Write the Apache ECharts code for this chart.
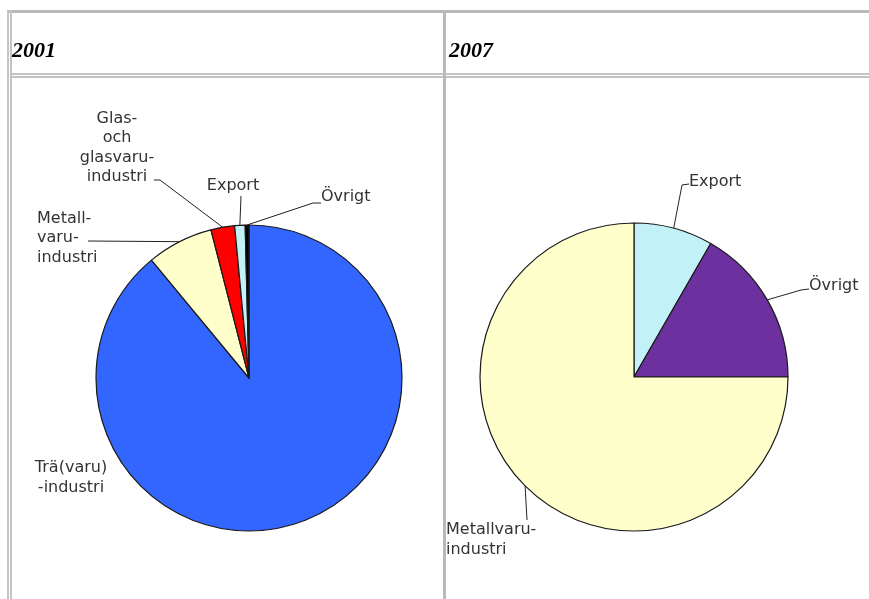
<!DOCTYPE html>
<html>
<head>
<meta charset="utf-8">
<script src="https://cdn.jsdelivr.net/npm/echarts@6/dist/echarts.min.js"></script>
<style>
  html, body { margin: 0; padding: 0; background: #fff; }
  #chart { width: 869px; height: 599px; }
</style>
</head>
<body>
<div id="chart"></div>
<script>
// 2001
var names2001 = ['Trä(varu)\n-industri', 'Metall-\nvaru-\nindustri', 'Glas-\noch\nglasvaru-\nindustri', 'Export', 'Övrigt']
var values2001 = [89, 7, 2.5, 1.1, 0.4]
var colors2001 = ['#3366ff', '#ffffcc', '#ff0000', '#c2f2f7', '#000000']

// 2007
var names2007 = ['Export', 'Övrigt', 'Metallvaru-\nindustri']
var values2007 = [8.3, 16.7, 75]
var colors2007 = ['#c2f2f7', '#6c309f', '#ffffcc']

var headers = ['2001', '2007']

// label placement: [x, y, align, bend point or null, end point]
var place2001 = [
  [71, 478, 'center', null],
  [37, 238, 'left', [88, 241]],
  [117, 148, 'center', [160, 180], [154, 180]],
  [233, 186, 'center', [241, 196]],
  [321, 197, 'left', [313, 203], [321, 203]]
]
var place2007 = [
  [689, 182, 'left', [682, 185], [689, 184]],
  [809, 286, 'left', [801, 290], [809, 289]],
  [446, 540, 'left', [527, 520]]
]

function buildData (names, values, colors) {
  var out = []
  for (var i = 0; i < names.length; i++) {
    out.push({ name: names[i], value: values[i], itemStyle: { color: colors[i] } })
  }
  return out
}

function makeLayout (place) {
  return function (params) {
    var p = place[params.dataIndex]
    var res = { x: p[0], y: p[1], align: p[2], verticalAlign: 'middle' }
    if (p[3] && params.labelLinePoints) {
      var start = params.labelLinePoints[0]
      var end = p[4] || p[3]
      res.labelLinePoints = [start, p[3], end]
    }
    return res
  }
}

var labelStyle = {
  show: true,
  position: 'outside',
  color: '#333',
  fontFamily: 'DejaVu Sans',
  fontSize: 16,
  lineHeight: 19.5,
  formatter: '{b}'
}

var line = { stroke: '#b9b9b9', lineWidth: 3 }

var myChart = echarts.init(document.getElementById('chart'))
myChart.setOption({
  animation: false,
  backgroundColor: '#fff',
  graphic: [
    { type: 'line', shape: { x1: 7, y1: 11.5, x2: 869, y2: 11.5 }, style: line },
    { type: 'line', shape: { x1: 8, y1: 11, x2: 8, y2: 599 }, style: { stroke: '#c4c4c4', lineWidth: 2 } },
    { type: 'line', shape: { x1: 11, y1: 11, x2: 11, y2: 599 }, style: { stroke: '#c4c4c4', lineWidth: 2 } },
    { type: 'line', shape: { x1: 11, y1: 74, x2: 869, y2: 74 }, style: { stroke: '#c4c4c4', lineWidth: 2 } },
    { type: 'line', shape: { x1: 11, y1: 77, x2: 869, y2: 77 }, style: { stroke: '#c4c4c4', lineWidth: 2 } },
    { type: 'line', shape: { x1: 444.5, y1: 11, x2: 444.5, y2: 599 }, style: line },
    {
      type: 'text', left: 12, top: 40,
      style: { text: headers[0], font: 'italic bold 22px "Liberation Serif"', fill: '#000' }
    },
    {
      type: 'text', left: 449, top: 40,
      style: { text: headers[1], font: 'italic bold 22px "Liberation Serif"', fill: '#000' }
    }
  ],
  series: [
    {
      type: 'pie',
      center: [249, 378],
      radius: 153,
      startAngle: 90,
      clockwise: true,
      avoidLabelOverlap: false,
      itemStyle: { borderColor: '#1a1a1a', borderWidth: 1.2 },
      label: labelStyle,
      labelLine: { show: true, lineStyle: { color: '#222', width: 1 } },
      labelLayout: makeLayout(place2001),
      emphasis: { disabled: true },
      data: buildData(names2001, values2001, colors2001).map(function (d, i) {
        if (i === 0) d.labelLine = { show: false }
        return d
      })
    },
    {
      type: 'pie',
      center: [634, 377],
      radius: 154,
      startAngle: 90,
      clockwise: true,
      avoidLabelOverlap: false,
      itemStyle: { borderColor: '#1a1a1a', borderWidth: 1.2 },
      label: labelStyle,
      labelLine: { show: true, lineStyle: { color: '#222', width: 1 } },
      labelLayout: makeLayout(place2007),
      emphasis: { disabled: true },
      data: buildData(names2007, values2007, colors2007)
    }
  ]
})
</script>
</body>
</html>
